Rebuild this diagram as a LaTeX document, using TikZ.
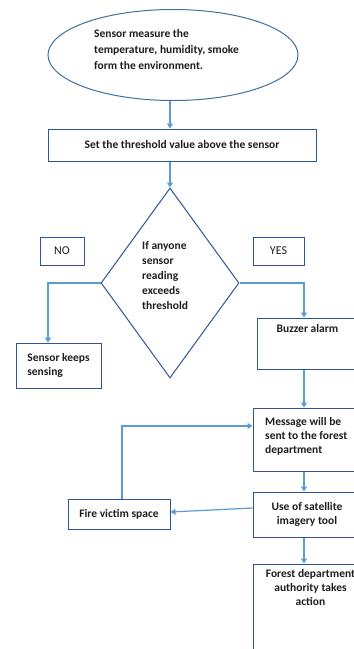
\documentclass[tikz,border=0pt]{standalone}
\usepackage{fontspec}
\setmainfont{Carlito}
\usetikzlibrary{shapes.geometric,arrows.meta}
\definecolor{boxc}{RGB}{47,85,151}
\definecolor{ellc}{RGB}{65,113,156}
\definecolor{arrc}{RGB}{91,155,213}
\definecolor{txtc}{RGB}{30,30,30}
\tikzset{
  box/.style={draw=boxc, line width=1pt, rectangle, inner sep=0pt},
  arr/.style={draw=arrc, line width=1.2pt, -{Triangle[width=6pt,length=5pt]}},
  txt/.style={font=\bfseries\fontsize{11.5}{15}\selectfont, text=txtc, inner sep=0pt},
  rtxt/.style={font=\fontsize{12}{15}\selectfont, text=txtc, inner sep=0pt}
}
\begin{document}
\begin{tikzpicture}[x=1pt,y=-1pt]
\path[use as bounding box] (0,0) rectangle (354,649);
\clip (0,0) rectangle (354,649);
\fill[white] (0,0) rectangle (354,649);
% ellipse
\node[ellipse, draw=ellc, line width=1pt, minimum width=250pt, minimum height=91pt, inner sep=0pt] (ell) at (173,55) {};
\node[txt, anchor=west, align=left, font=\bfseries\fontsize{11.5}{16}\selectfont] (elltxt) at (94,50) {Sensor measure the\\temperature, humidity, smoke\\form the environment.};
% threshold box
\node[box, minimum width=268pt, minimum height=32pt, txt] (thr) at (182,145) {Set the threshold value above the sensor};
% diamond
\node[diamond, draw=boxc, line width=1pt, minimum width=138pt, minimum height=190pt, inner sep=0pt] (dia) at (170,283) {};
\node[txt, anchor=west, align=left] (diatxt) at (142,276) {If anyone\\sensor\\reading\\exceeds\\threshold};
% NO / YES
\node[box, minimum width=44pt, minimum height=28pt, rtxt] (no) at (62,251) {NO};
\node[box, minimum width=51pt, minimum height=28pt, rtxt] (yes) at (278.5,251) {YES};
% sensor keeps sensing
\node[box, minimum width=85pt, minimum height=45pt, txt, align=left, font=\bfseries\fontsize{11.5}{13.5}\selectfont] (sks) at (58.5,365.5) {Sensor keeps\\sensing};
% buzzer
\node[box, minimum width=101pt, minimum height=51pt,
  label={[txt, anchor=north, yshift=-7pt]north:Buzzer alarm}] (buz) at (307.5,343.5) {};
% message
\node[box, minimum width=110pt, minimum height=63pt] (msg) at (308,439.5) {};
\node[txt, anchor=west, align=left, font=\bfseries\fontsize{11.5}{14}\selectfont] (msgtxt) at (265,436) {Message will be\\sent to the forest\\department};
% satellite
\node[box, minimum width=108pt, minimum height=45pt, txt, align=center, font=\bfseries\fontsize{11.5}{14}\selectfont] (sat) at (307,514.5) {Use of satellite\\imagery tool};
% fire victim
\node[box, minimum width=102pt, minimum height=30pt, txt] (fire) at (119,514) {Fire victim space};
% forest
\node[box, minimum width=115pt, minimum height=116pt,
  label={[txt, anchor=north, align=center, yshift=-6pt, font=\bfseries\fontsize{11.5}{14}\selectfont]north:Forest department\\authority takes\\action}] (for) at (310.5,622) {};
% connectors
\draw[arr] (ell.south -| dia.north) -- (thr.north -| dia.north);
\draw[arr] (thr.south -| dia.north) -- (dia.north);
\draw[arr] (dia.west) -| ([xshift=-10.5pt]sks.north);
\draw[arr] (dia.east) -| ([xshift=-3.5pt]buz.north);
\draw[arr] ([xshift=-3.5pt]buz.south) -- ([xshift=-4pt]msg.north);
\draw[arr] ([xshift=-4pt]msg.south) -- ([xshift=-3pt]sat.north);
\draw[arr] ([yshift=6.5pt]sat.west) -- ([yshift=2pt]fire.east);
\draw[arr] ([xshift=3pt]fire.north) |- ([yshift=13.5pt]msg.west);
\draw[arr] ([xshift=-3pt]sat.south) -- ([xshift=-6.5pt]for.north);
\end{tikzpicture}
\end{document}
